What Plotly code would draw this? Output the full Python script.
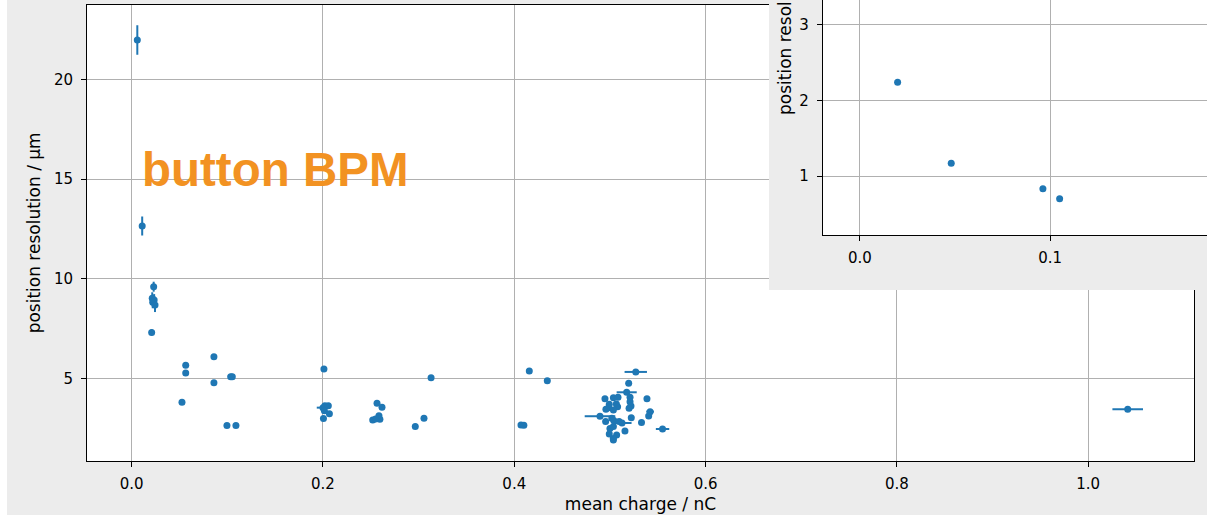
import plotly.graph_objects as go

W, H = 1207, 515

# ---------------- data ----------------
charge = [0.0059, 0.0110, 0.0230, 0.0215, 0.0235, 0.0220, 0.0244, 0.0209,
          0.0526, 0.0565, 0.0565, 0.0860, 0.0860, 0.1035, 0.1052, 0.0996, 0.1090,
          0.2010, 0.2000, 0.2020, 0.2056, 0.2015, 0.2067, 0.2005,
          0.2565, 0.2617, 0.2585, 0.2595, 0.2520, 0.2550, 0.2965, 0.3056, 0.3130,
          0.4070, 0.4100, 0.4157, 0.4345,
          0.5270, 0.5196, 0.5175, 0.4948, 0.5036, 0.5084, 0.5210, 0.5387, 0.5210,
          0.5220, 0.4993, 0.5067, 0.4987, 0.5080, 0.5200, 0.4958, 0.5036, 0.5420,
          0.5405, 0.5223, 0.4896, 0.5126, 0.5020, 0.4955, 0.5040, 0.5096, 0.5330,
          0.5000, 0.5036, 0.5157, 0.4993, 0.5070, 0.5035, 0.5036, 0.5550,
          1.0413]
resolution = [21.97, 12.65, 9.61, 9.03, 8.94, 8.83, 8.69, 7.32,
              3.82, 5.67, 5.29, 6.10, 4.80, 5.10, 5.10, 2.65, 2.65,
              5.49, 3.55, 3.65, 3.65, 3.40, 3.25, 3.01,
              3.77, 3.57, 3.15, 2.97, 2.93, 2.98, 2.60, 3.02, 5.05,
              2.68, 2.67, 5.39, 4.90,
              5.34, 4.77, 4.32, 4.00, 4.05, 4.07, 4.07, 4.00, 3.85,
              3.63, 3.72, 3.73, 3.55, 3.60, 3.52, 3.47, 3.43, 3.35,
              3.13, 3.05, 3.12, 2.78, 3.02, 2.85, 2.90, 2.85, 2.80,
              2.51, 2.60, 2.38, 2.23, 2.18, 2.01, 1.93, 2.48,
              3.47]
charge_err = [0, 0, 0, 0, 0, 0, 0, 0,
              0, 0, 0, 0, 0, 0, 0, 0, 0,
              0, 0.0065, 0, 0, 0, 0, 0,
              0, 0, 0, 0, 0, 0, 0, 0, 0,
              0, 0, 0, 0.003,
              0.0117, 0.003, 0.0105, 0, 0, 0, 0, 0, 0,
              0, 0, 0, 0, 0, 0, 0, 0, 0.004,
              0, 0, 0.016, 0.010, 0, 0, 0, 0, 0,
              0, 0, 0, 0, 0, 0, 0, 0.007,
              0.016]
resolution_err = [0.74, 0.48, 0.25, 0.30, 0.30, 0.30, 0.35, 0.15,
                  0, 0, 0, 0, 0, 0, 0, 0, 0,
                  0, 0, 0, 0, 0, 0, 0,
                  0, 0, 0, 0, 0, 0, 0, 0, 0,
                  0, 0, 0, 0,
                  0, 0, 0, 0, 0, 0, 0, 0, 0,
                  0, 0, 0, 0, 0, 0, 0, 0, 0,
                  0, 0, 0, 0, 0, 0, 0, 0, 0,
                  0, 0, 0, 0, 0, 0, 0, 0,
                  0]

inset_charge = [0.0198, 0.0480, 0.0962, 0.1050]
inset_resolution = [2.24, 1.17, 0.83, 0.70]
inset_resolution_err = [0.03, 0.02, 0.02, 0.02]

x_label = "mean charge / nC"
y_label = "position resolution / µm"
label_text = "button BPM"

# ---------------- styling ----------------
BLUE = "#1f77b4"
GRAY = "#ececec"
GRID = "#b0b0b0"
FONT = "DejaVu Sans"
TICK_SIZE = 15
TITLE_SIZE = 17

def px(x):
    return x / W

def py(y):
    return 1 - y / H

fig = go.Figure()

fig.add_trace(go.Scatter(
    x=charge, y=resolution, mode="markers",
    marker=dict(color=BLUE, size=7, line=dict(width=0)),
    error_x=dict(type="data", array=charge_err, color=BLUE, thickness=2, width=0),
    error_y=dict(type="data", array=resolution_err, color=BLUE, thickness=2, width=0),
    xaxis="x", yaxis="y", showlegend=False, hoverinfo="x+y"))

# empty trace so that the grey frame subplot behind the inset is created
fig.add_trace(go.Scatter(x=[], y=[], mode="markers", xaxis="x2", yaxis="y2",
                         showlegend=False, hoverinfo="skip"))

fig.add_trace(go.Scatter(
    x=inset_charge, y=inset_resolution, mode="markers",
    marker=dict(color=BLUE, size=7, line=dict(width=0)),
    error_y=dict(type="data", array=inset_resolution_err, color=BLUE, thickness=2, width=0),
    xaxis="x3", yaxis="y3", showlegend=False, hoverinfo="x+y"))

tickfont = dict(family=FONT, size=TICK_SIZE, color="#000000")
titlefont = dict(family=FONT, size=TITLE_SIZE, color="#000000")
common = dict(showgrid=True, gridcolor=GRID, gridwidth=1, zeroline=False,
              showline=True, linecolor="#000000", linewidth=1,
              ticks="outside", ticklen=5, tickwidth=1, tickcolor="#000000",
              tickfont=tickfont)

fig.update_layout(
    width=W, height=H,
    margin=dict(l=0, r=0, t=0, b=0, pad=0),
    paper_bgcolor=GRAY, plot_bgcolor=GRAY,
    font=dict(family=FONT, size=TICK_SIZE, color="#000000"),
    xaxis=dict(domain=[px(87), px(1194)], range=[-0.0467, 1.1106], dtick=0.2,
               tickformat=".1f", mirror=True, anchor="y", ticklabelstandoff=4,
               title=dict(text=x_label, standoff=6, font=titlefont),
               **common),
    yaxis=dict(domain=[py(461), py(4.7)], range=[0.877, 23.74], dtick=5,
               mirror=True, anchor="x", ticklabelstandoff=5,
               title=dict(text=y_label, standoff=8, font=titlefont),
               **common),
    # grey frame behind the inset
    xaxis2=dict(domain=[px(769), 1.0], anchor="y2", range=[0, 1],
                showgrid=False, zeroline=False, showline=False,
                showticklabels=False, ticks=""),
    yaxis2=dict(domain=[py(290), 1.0], anchor="x2", range=[0, 1],
                showgrid=False, zeroline=False, showline=False,
                showticklabels=False, ticks=""),
    # inset
    xaxis3=dict(domain=[px(822.7), 1.0], range=[-0.0196, 0.1825], dtick=0.1,
                tickformat=".1f", mirror=False, anchor="y3", ticklabelstandoff=4,
                **common),
    yaxis3=dict(domain=[py(235.3), 1.0], range=[0.215, 3.33], dtick=1,
                mirror=False, anchor="x3", ticklabelstandoff=5, **common),
)

# white plotting areas (clipped to each subplot)
fig.add_shape(type="rect", xref="x", yref="y", x0=-1, x1=2, y0=-10, y1=40,
              fillcolor="#ffffff", line=dict(width=0), layer="below")
fig.add_shape(type="rect", xref="x3", yref="y3", x0=-1, x1=2, y0=-10, y1=40,
              fillcolor="#ffffff", line=dict(width=0), layer="below")
# white page strip on the left
fig.add_shape(type="rect", xref="paper", yref="paper", x0=0, x1=px(7), y0=0, y1=1,
              fillcolor="#ffffff", line=dict(width=0), layer="below")

fig.add_annotation(text=label_text, xref="paper", yref="paper",
                   x=px(139.5), y=py(169.5), xanchor="left", yanchor="middle",
                   showarrow=False,
                   font=dict(family="Liberation Sans", size=47.5, color="#F29222", weight="bold"))

# inset y-axis title (its axes extend beyond the visible picture)
fig.add_annotation(text=y_label, xref="paper", yref="paper",
                   x=px(785), y=py(15), xanchor="center", yanchor="middle",
                   textangle=-90, showarrow=False, font=titlefont)

fig.write_html("out.html", config={"displayModeBar": False})
